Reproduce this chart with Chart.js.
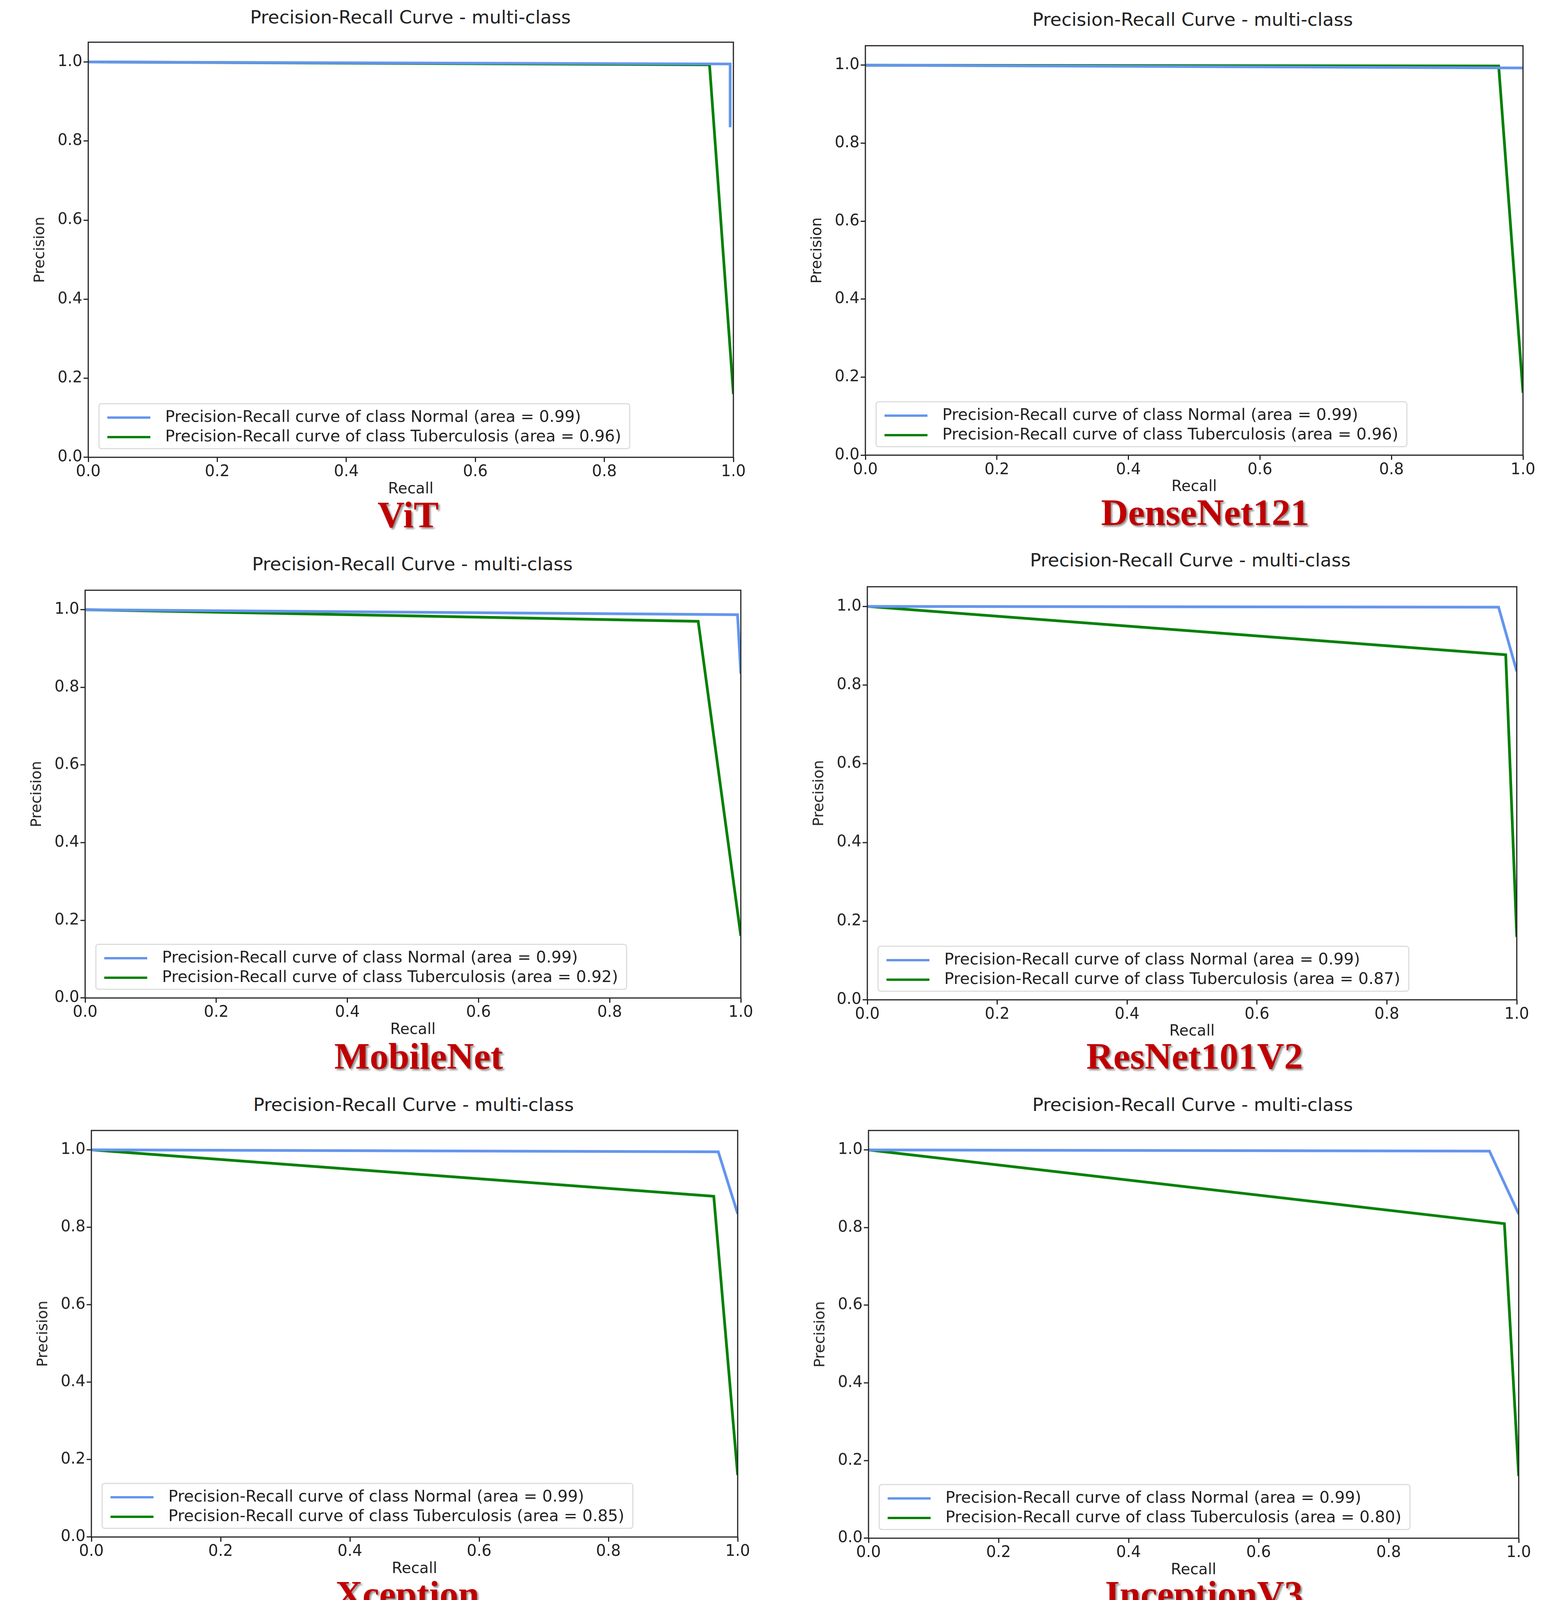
<!doctype html>
<html>
<head>
<meta charset="UTF-8">
<script src="https://cdn.jsdelivr.net/npm/chart.js"></script>
<style>
  body { margin:0; width:3964px; height:4172px; background:#fff; position:relative; font-family:"DejaVu Sans", sans-serif; }
  .box { position:absolute; }
  .ttl { position:absolute; font-size:47px; color:#222; transform:translateX(-50%); white-space:nowrap; }
  .name { position:absolute; font-family:"Liberation Serif", serif; font-weight:bold; font-size:96px; color:#c00000;
          transform:translate(-50%,-50%); white-space:nowrap; text-shadow:4px 4px 4px rgba(0,0,0,0.45); }
  .leg { position:absolute; border:3px solid #ddd; border-radius:8px; background:rgba(255,255,255,0.85);
         padding:6px 20px; font-size:41px; color:#222; line-height:50px; white-space:nowrap; }
  .leg span.l { display:inline-block; width:110px; height:6px; vertical-align:middle; margin-right:38px; }
</style>
</head>
<body>
<script>
// chart names and curve data: [recall, precision]
const models = ['ViT', 'DenseNet121', 'MobileNet', 'ResNet101V2', 'Xception', 'InceptionV3'];
const tbArea = ['0.96', '0.96', '0.92', '0.87', '0.85', '0.80'];
const normalArea = '0.99';

const normalVit = [[0,1],[0.995,0.995],[0.995,0.835]];
const tbVit = [[0,1],[0.963,0.993],[1.0,0.16]];
const normalDense = [[0,1],[1.0,0.993]];
const tbDense = [[0,1],[0.963,0.998],[1.0,0.16]];
const normalMobile = [[0,1],[0.995,0.987],[1.0,0.835]];
const tbMobile = [[0,1],[0.935,0.97],[1.0,0.16]];
const normalResnet = [[0,1],[0.972,0.998],[1.0,0.835]];
const tbResnet = [[0,1],[0.983,0.877],[1.0,0.16]];
const normalXception = [[0,1],[0.97,0.995],[1.0,0.835]];
const tbXception = [[0,1],[0.963,0.88],[1.0,0.16]];
const normalInception = [[0,1],[0.955,0.997],[1.0,0.835]];
const tbInception = [[0,1],[0.978,0.81],[1.0,0.16]];

const normalCurves = [normalVit, normalDense, normalMobile, normalResnet, normalXception, normalInception];
const tbCurves = [tbVit, tbDense, tbMobile, tbResnet, tbXception, tbInception];

// layout: plot left, right, y of 1.0, y of 0.0 ; title and name centres
const plots = [
  {l:226, r:1878, y1:133, y0:1170, tx:1051, ty:16, nx:1045, ny:1317},
  {l:2216, r:3900, y1:141, y0:1165, tx:3054, ty:22, nx:3086, ny:1311},
  {l:218, r:1897, y1:1535, y0:2554, tx:1056, ty:1416, nx:1072, ny:2703},
  {l:2221, r:3884, y1:1527, y0:2559, tx:3048, ty:1406, nx:3059, ny:2703},
  {l:234, r:1889, y1:2918, y0:3934, tx:1059, ty:2800, nx:1043, ny:4080},
  {l:2224, r:3889, y1:2918, y0:3937, tx:3054, ty:2800, nx:3083, ny:4080}
];

const frame = {
  id: 'frame',
  afterDraw(c) {
    const a = c.chartArea, ctx = c.ctx;
    ctx.save(); ctx.strokeStyle = '#222'; ctx.lineWidth = 3;
    ctx.strokeRect(a.left, a.top, a.right - a.left, a.bottom - a.top);
    ctx.restore();
  }
};

const LP = 150, BP = 105, RP = 50;
plots.forEach((p, i) => {
  const unit = (p.y0 - p.y1);
  const top = p.y0 - unit * 1.05;
  const w = p.r - p.l, h = p.y0 - top;
  const box = document.createElement('div');
  box.className = 'box';
  box.style.cssText = `left:${p.l - LP}px;top:${top}px;width:${w + LP + RP}px;height:${h + BP}px`;
  const cv = document.createElement('canvas');
  box.appendChild(cv);
  document.body.appendChild(box);

  const t = document.createElement('div');
  t.className = 'ttl'; t.style.left = p.tx + 'px'; t.style.top = p.ty + 'px';
  t.textContent = 'Precision-Recall Curve - multi-class';
  document.body.appendChild(t);

  const n = document.createElement('div');
  n.className = 'name'; n.style.left = p.nx + 'px'; n.style.top = p.ny + 'px';
  n.textContent = models[i];
  document.body.appendChild(n);

  const lg = document.createElement('div');
  lg.className = 'leg';
  lg.style.left = (p.l + 26) + 'px';
  lg.style.bottom = (4172 - p.y0 + 20) + 'px';
  lg.innerHTML = `<div><span class="l" style="background:#6495ed"></span>Precision-Recall curve of class Normal (area = ${normalArea})</div>` +
                 `<div><span class="l" style="background:#008000"></span>Precision-Recall curve of class Tuberculosis (area = ${tbArea[i]})</div>`;
  document.body.appendChild(lg);

  const toPts = arr => arr.map(([x, y]) => ({x, y}));
  new Chart(cv, {
    type: 'scatter',
    data: {
      datasets: [
        {data: toPts(normalCurves[i]), showLine: true, borderColor: '#6495ed', borderWidth: 7, pointRadius: 0},
        {data: toPts(tbCurves[i]), showLine: true, borderColor: '#008000', borderWidth: 7, pointRadius: 0}
      ]
    },
    options: {
      animation: false, responsive: true, maintainAspectRatio: false,
      layout: {padding: {left: 0, top: 0, right: RP, bottom: 0}},
      plugins: {legend: {display: false}, tooltip: {enabled: false}},
      scales: {
        x: {
          type: 'linear', min: 0, max: 1,
          ticks: {stepSize: 0.2, color: '#222', padding: 2, font: {size: 40, family: 'DejaVu Sans'}, callback: v => v.toFixed(1), maxRotation: 0},
          grid: {drawOnChartArea: false, tickLength: 12, color: '#222', lineWidth: 3},
          border: {display: false},
          title: {display: true, text: 'Recall', color: '#222', font: {size: 39, family: 'DejaVu Sans'}, padding: {top: -6, bottom: 0}},
          afterFit(s) { s.height = BP; }
        },
        y: {
          type: 'linear', min: 0, max: 1.05,
          afterBuildTicks(s) { s.ticks = [0, 0.2, 0.4, 0.6, 0.8, 1.0].map(v => ({value: v})); },
          ticks: {color: '#222', font: {size: 40, family: 'DejaVu Sans'}, callback: v => v.toFixed(1)},
          grid: {drawOnChartArea: false, tickLength: 12, color: '#222', lineWidth: 3},
          border: {display: false},
          title: {display: true, text: 'Precision', color: '#222', font: {size: 38, family: 'DejaVu Sans'}},
          afterFit(s) { s.width = LP; }
        }
      }
    },
    plugins: [frame]
  });
});
</script>
</body>
</html>
